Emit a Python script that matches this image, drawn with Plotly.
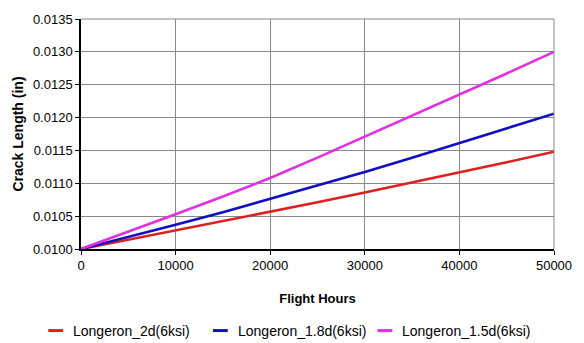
import plotly.graph_objects as go

# Flight hours at which crack length was recorded
flight_hours = [0, 5000, 10000, 15000, 20000, 25000, 30000, 35000, 40000, 45000, 50000]

# Crack length (in) for each longeron configuration
longeron_2d = [0.01000, 0.01014, 0.01029, 0.01042, 0.01056, 0.01071, 0.01086, 0.01101, 0.01117, 0.01132, 0.01148]
longeron_1_8d = [0.01000, 0.01018, 0.01037, 0.01056, 0.01076, 0.01096, 0.01117, 0.01139, 0.01161, 0.01183, 0.01206]
longeron_1_5d = [0.01000, 0.01026, 0.01053, 0.01080, 0.01108, 0.01139, 0.01171, 0.01202, 0.01234, 0.01267, 0.01300]

series_names = ["Longeron_2d(6ksi)", "Longeron_1.8d(6ksi)", "Longeron_1.5d(6ksi)"]
series_colors = ["#dd1f1f", "#1010c0", "#e030e0"]

x_ticks = [0, 10000, 20000, 30000, 40000, 50000]
y_ticks = [0.0100, 0.0105, 0.0110, 0.0115, 0.0120, 0.0125, 0.0130, 0.0135]

font_family = "Liberation Sans, Arial, sans-serif"

# Figure geometry (pixels)
W, H = 584, 343
M_L, M_R, M_T, M_B = 81, 26, 15, 94
PLOT_W = W - M_L - M_R
PLOT_H = H - M_T - M_B


def to_paper_x(px):
    return (px - M_L) / PLOT_W


def to_paper_y(py):
    return (H - M_B - py) / PLOT_H


fig = go.Figure()
for name, values, color in zip(series_names, [longeron_2d, longeron_1_8d, longeron_1_5d], series_colors):
    fig.add_trace(go.Scatter(
        x=flight_hours, y=values, mode="lines", name=name,
        line=dict(color=color, width=2.6),
    ))

fig.update_layout(
    width=W, height=H,
    margin=dict(l=M_L, r=M_R, t=M_T, b=M_B),
    paper_bgcolor="white", plot_bgcolor="white",
    font=dict(family=font_family, size=13, color="black"),
    showlegend=False,
)

fig.update_xaxes(
    range=[0, 50000], tickvals=x_ticks, ticktext=[str(v) for v in x_ticks],
    showgrid=True, gridcolor="#888888", gridwidth=1,
    showline=True, linecolor="black", linewidth=1.5,
    ticks="outside", ticklen=4, tickcolor="black",
    tickfont=dict(size=13),
    zeroline=False,
    title=dict(text="<b>Flight Hours</b>", font=dict(size=13), standoff=22),
)
fig.update_yaxes(
    range=[0.0100, 0.0135], tickvals=y_ticks, ticktext=[f"{v:.4f}" for v in y_ticks],
    showgrid=True, gridcolor="#888888", gridwidth=1,
    showline=True, linecolor="black", linewidth=1.5,
    ticks="outside", ticklen=4, tickcolor="black",
    tickfont=dict(size=13),
    zeroline=False,
    title=dict(text="<b>Crack Length (in)</b>", font=dict(size=14), standoff=6),
)

# Gray frame on the top and right edges of the plot area
fig.add_shape(type="line", xref="paper", yref="paper", x0=0, x1=1, y0=1, y1=1,
              line=dict(color="#888888", width=1))
fig.add_shape(type="line", xref="paper", yref="paper", x0=1, x1=1, y0=0, y1=1,
              line=dict(color="#888888", width=1))

# Legend row below the axis: short colour swatch followed by the series name
legend_y = to_paper_y(332)
legend_swatch_start = [48, 214, 380]
for name, color, sx in zip(series_names, series_colors, legend_swatch_start):
    fig.add_shape(type="line", xref="paper", yref="paper",
                  x0=to_paper_x(sx), x1=to_paper_x(sx + 15), y0=legend_y, y1=legend_y,
                  line=dict(color=color, width=3))
    fig.add_annotation(xref="paper", yref="paper", x=to_paper_x(sx + 23), y=legend_y,
                       text=name, showarrow=False, xanchor="left", yanchor="middle",
                       font=dict(size=14, color="black"))

fig.write_html("out.html")
